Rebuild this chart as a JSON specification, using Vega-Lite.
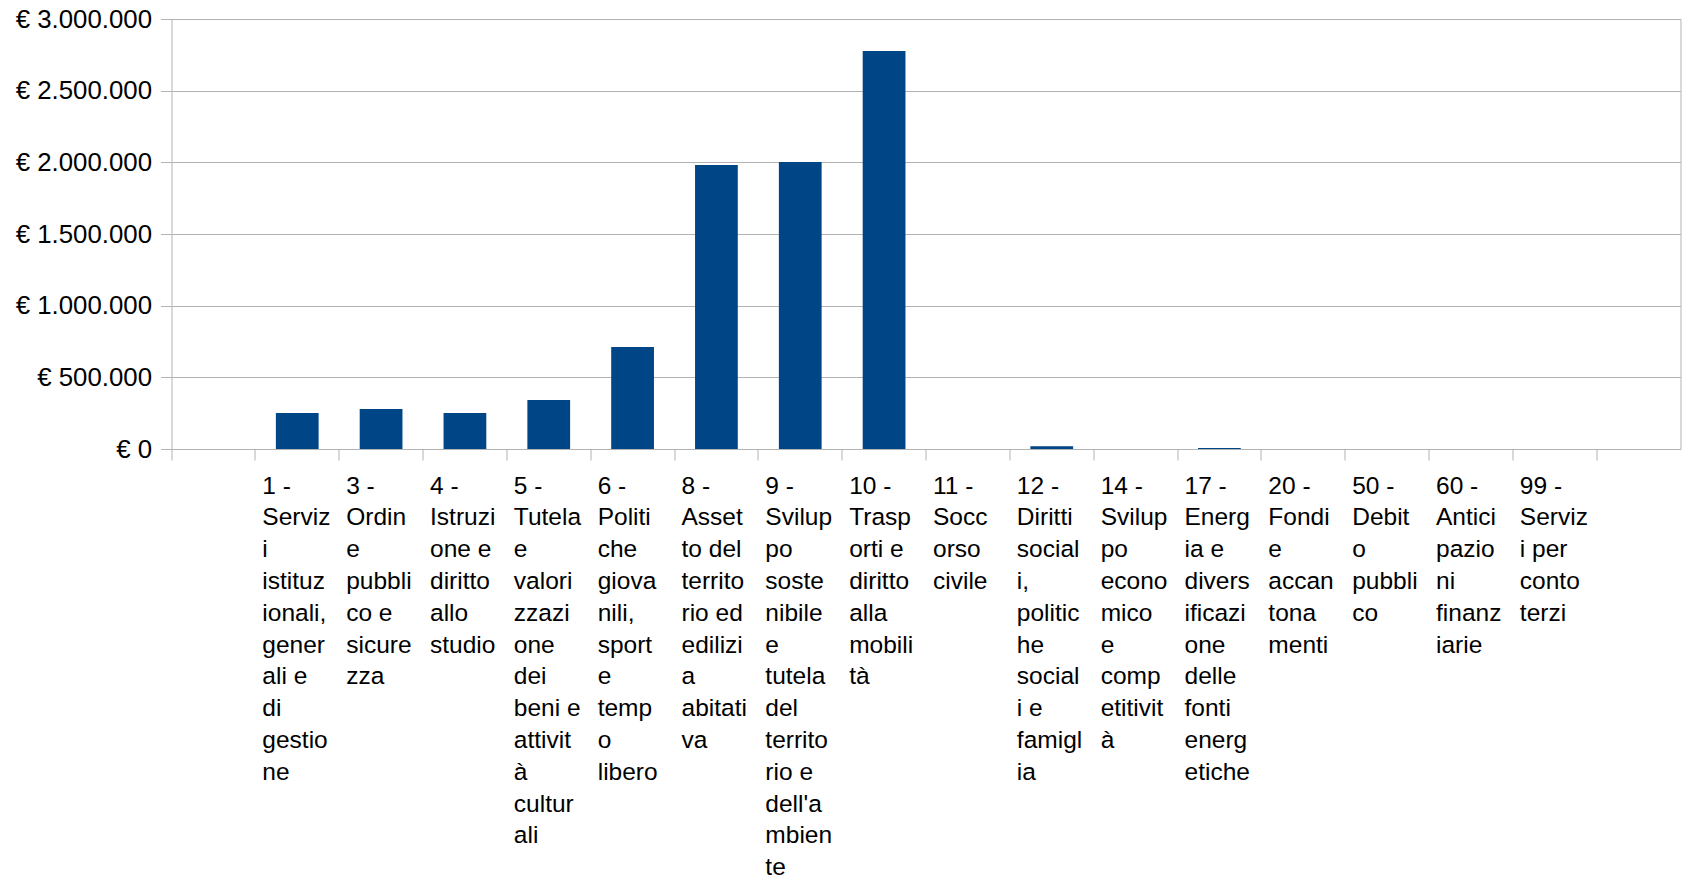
{
  "$schema": "https://vega.github.io/schema/vega-lite/v6.json",
  "autosize": "none",
  "width": 1509,
  "height": 430,
  "padding": {"left": 171.5, "top": 19, "right": 3.5, "bottom": 433},
  "background": "white",
  "config": {
    "locale": {
      "number": {"decimal": ",", "thousands": ".", "grouping": [3], "currency": ["€ ", ""]}
    },
    "view": {"stroke": "#b3b3b3", "strokeWidth": 1},
    "font": "Liberation Sans"
  },
  "data": {
    "values": [
      {"missione": "1 -\nServiz\ni\nistituz\nionali,\ngener\nali e\ndi\ngestio\nne", "importo": 251000},
      {"missione": "3 -\nOrdin\ne\npubbli\nco e\nsicure\nzza", "importo": 279000},
      {"missione": "4 -\nIstruzi\none e\ndiritto\nallo\nstudio", "importo": 251000},
      {"missione": "5 -\nTutela\ne\nvalori\nzzazi\none\ndei\nbeni e\nattivit\nà\ncultur\nali", "importo": 342000},
      {"missione": "6 -\nPoliti\nche\ngiova\nnili,\nsport\ne\ntemp\no\nlibero", "importo": 712000},
      {"missione": "8 -\nAsset\nto del\nterrito\nrio ed\nedilizi\na\nabitati\nva", "importo": 1981000},
      {"missione": "9 -\nSvilup\npo\nsoste\nnibile\ne\ntutela\ndel\nterrito\nrio e\ndell'a\nmbien\nte", "importo": 2002000},
      {"missione": "10 -\nTrasp\norti e\ndiritto\nalla\nmobili\ntà", "importo": 2777000},
      {"missione": "11 -\nSocc\norso\ncivile", "importo": 0},
      {"missione": "12 -\nDiritti\nsocial\ni,\npolitic\nhe\nsocial\ni e\nfamigl\nia", "importo": 20000},
      {"missione": "14 -\nSvilup\npo\necono\nmico\ne\ncomp\netitivit\nà", "importo": 0},
      {"missione": "17 -\nEnerg\nia e\ndivers\nificazi\none\ndelle\nfonti\nenerg\netiche", "importo": 7000},
      {"missione": "20 -\nFondi\ne\naccan\ntona\nmenti", "importo": 0},
      {"missione": "50 -\nDebit\no\npubbli\nco", "importo": 0},
      {"missione": "60 -\nAntici\npazio\nni\nfinanz\niarie", "importo": 0},
      {"missione": "99 -\nServiz\ni per\nconto\nterzi", "importo": 0}
    ]
  },
  "mark": {"type": "bar", "color": "#004586", "width": {"band": 0.51}},
  "encoding": {
    "x": {
      "field": "missione",
      "type": "nominal",
      "sort": null,
      "scale": {
        "domain": [
          "",
          "1 -\nServiz\ni\nistituz\nionali,\ngener\nali e\ndi\ngestio\nne",
          "3 -\nOrdin\ne\npubbli\nco e\nsicure\nzza",
          "4 -\nIstruzi\none e\ndiritto\nallo\nstudio",
          "5 -\nTutela\ne\nvalori\nzzazi\none\ndei\nbeni e\nattivit\nà\ncultur\nali",
          "6 -\nPoliti\nche\ngiova\nnili,\nsport\ne\ntemp\no\nlibero",
          "8 -\nAsset\nto del\nterrito\nrio ed\nedilizi\na\nabitati\nva",
          "9 -\nSvilup\npo\nsoste\nnibile\ne\ntutela\ndel\nterrito\nrio e\ndell'a\nmbien\nte",
          "10 -\nTrasp\norti e\ndiritto\nalla\nmobili\ntà",
          "11 -\nSocc\norso\ncivile",
          "12 -\nDiritti\nsocial\ni,\npolitic\nhe\nsocial\ni e\nfamigl\nia",
          "14 -\nSvilup\npo\necono\nmico\ne\ncomp\netitivit\nà",
          "17 -\nEnerg\nia e\ndivers\nificazi\none\ndelle\nfonti\nenerg\netiche",
          "20 -\nFondi\ne\naccan\ntona\nmenti",
          "50 -\nDebit\no\npubbli\nco",
          "60 -\nAntici\npazio\nni\nfinanz\niarie",
          "99 -\nServiz\ni per\nconto\nterzi",
          " "
        ],
        "paddingInner": 0,
        "paddingOuter": 0
      },
      "axis": {
        "title": null,
        "bandPosition": 0,
        "labelExpr": "split(datum.label, '\\n')",
        "labelAngle": 0,
        "labelAlign": "left",
        "labelBaseline": "top",
        "labelOffset": -34.9,
        "labelPadding": 14,
        "labelFont": "Liberation Sans",
        "labelFontSize": 24.5,
        "labelLineHeight": 31.8,
        "labelColor": "#000000",
        "labelLimit": 0,
        "labelOverlap": false,
        "labelFlush": false,
        "labelBound": false,
        "domainColor": "#b3b3b3",
        "tickColor": "#b3b3b3",
        "tickSize": 11,
        "grid": false
      }
    },
    "y": {
      "field": "importo",
      "type": "quantitative",
      "scale": {"domain": [0, 3000000], "nice": false},
      "axis": {
        "title": null,
        "values": [0, 500000, 1000000, 1500000, 2000000, 2500000, 3000000],
        "format": "$,d",
        "labelFont": "Liberation Sans",
        "labelFontSize": 25.8,
        "labelColor": "#000000",
        "labelPadding": 9,
        "labelLimit": 0,
        "labelFlush": false,
        "domain": false,
        "tickColor": "#b3b3b3",
        "tickSize": 11,
        "grid": true,
        "gridColor": "#b3b3b3",
        "gridWidth": 1
      }
    }
  }
}
